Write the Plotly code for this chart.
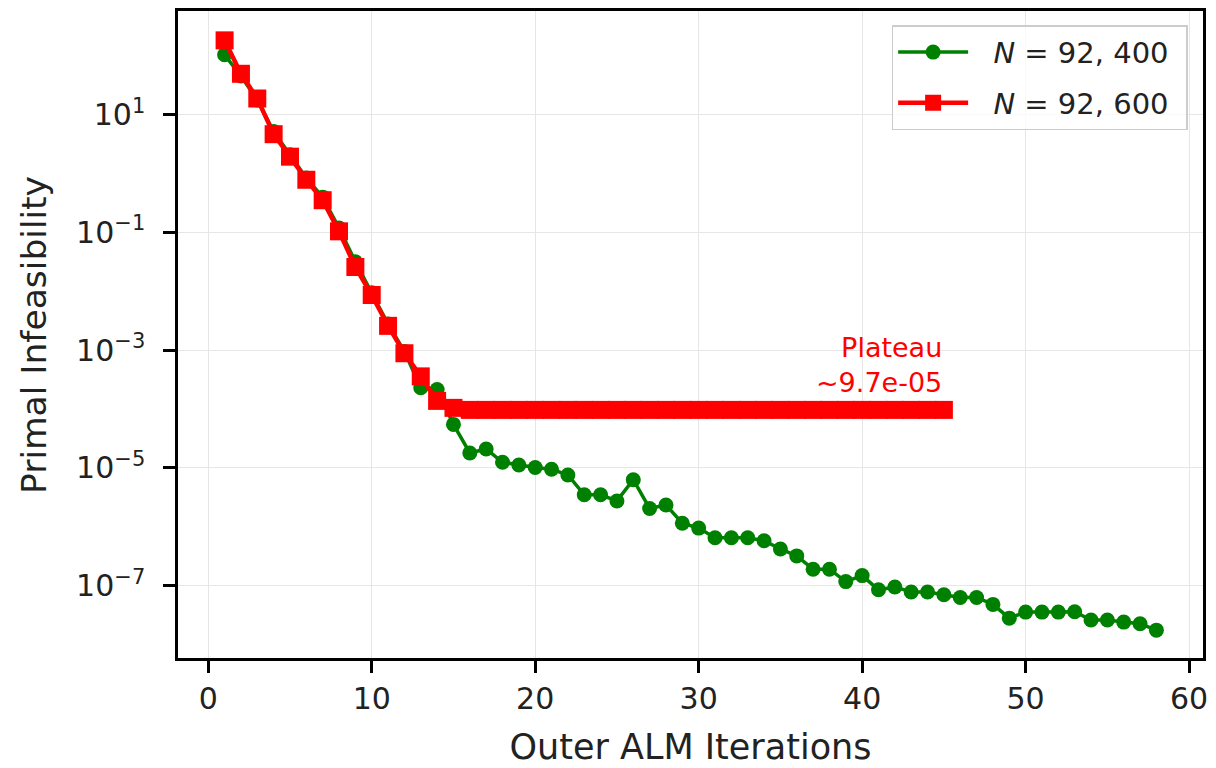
import math
import plotly.graph_objects as go

# ---- data ----
iters_a = list(range(1, 59))
infeas_a = [
    1.05e2, 4.6e1, 1.8e1, 5.2, 2.1, 0.85, 0.40, 0.12, 0.032, 0.0095,
    0.0028, 0.00095, 2.3e-4, 2.15e-4, 5.5e-5, 1.8e-5, 2.1e-5, 1.25e-5, 1.12e-5, 1.02e-5,
    9.5e-6, 7.6e-6, 3.5e-6, 3.5e-6, 2.75e-6, 6.3e-6, 2.05e-6, 2.35e-6, 1.15e-6, 9.5e-7,
    6.5e-7, 6.5e-7, 6.5e-7, 5.8e-7, 4.2e-7, 3.2e-7, 1.9e-7, 1.9e-7, 1.17e-7, 1.48e-7,
    8.5e-8, 9.5e-8, 7.8e-8, 7.8e-8, 7.0e-8, 6.3e-8, 6.3e-8, 4.8e-8, 2.8e-8, 3.55e-8,
    3.55e-8, 3.55e-8, 3.6e-8, 2.6e-8, 2.6e-8, 2.4e-8, 2.25e-8, 1.75e-8,
]
iters_b = list(range(1, 46))
infeas_b = [
    1.85e2, 5.0e1, 1.9e1, 4.7, 1.95, 0.79, 0.355, 0.105, 0.026, 0.0087,
    0.0026, 0.00089, 0.00036, 1.38e-4, 1.05e-4,
] + [9.7e-5] * 30

label_a = "\u2002\u2009<i>N</i> = 92, 400\u2009\u2009"
label_b = "\u2002\u2009<i>N</i> = 92, 600\u2009\u2009"
plateau_value = 9.7e-5
plateau_text = "Plateau<br>~9.7e-05"
x_title = "Outer ALM Iterations"
y_title = "Primal Infeasibility"

x_ticks = [0, 10, 20, 30, 40, 50, 60]
y_tick_vals = [1e1, 1e-1, 1e-3, 1e-5, 1e-7]
y_tick_text = ["10<sup>1</sup>", "10<sup>\u22121</sup>", "10<sup>\u22123</sup>",
               "10<sup>\u22125</sup>", "10<sup>\u22127</sup>"]

FONT = "DejaVu Sans"
TXT = "#222222"

fig = go.Figure()
fig.add_trace(go.Scatter(
    x=iters_a, y=infeas_a, mode="lines+markers", name=label_a, legendgroup="a",
    line=dict(color="#008000", width=3.5),
    marker=dict(symbol="circle", size=15, color="#008000"),
))
fig.add_trace(go.Scatter(
    x=iters_b, y=infeas_b, mode="lines+markers", name=label_b, legendgroup="b",
    line=dict(color="#ff0000", width=4.5),
    marker=dict(symbol="square", size=18, color="#ff0000"),
))

fig.add_annotation(
    x=iters_b[-1], y=math.log10(plateau_value * 1.5), xref="x", yref="y",
    text=plateau_text, showarrow=False, xanchor="right", yanchor="bottom",
    align="right", font=dict(family=FONT, size=27, color="#ff0000"),
)

# y-axis title as an annotation to place it precisely
fig.add_annotation(
    x=-0.141, y=0.5, xref="paper", yref="paper", text=y_title, textangle=-90,
    showarrow=False, xanchor="center", yanchor="middle",
    font=dict(family=FONT, size=34.5, color=TXT),
)

axis_common = dict(
    showline=True, linecolor="black", linewidth=2.5, mirror=True,
    ticks="outside", ticklen=12, tickwidth=2.5, tickcolor="black",
    showgrid=True, gridcolor="#e6e6e6", gridwidth=1.2,
    zeroline=False, tickfont=dict(family=FONT, size=30, color=TXT),
)

fig.update_layout(
    width=1216, height=768,
    margin=dict(l=178, r=13, t=8, b=108),
    paper_bgcolor="white", plot_bgcolor="white",
    font=dict(family=FONT, color=TXT),
    showlegend=True,
    legend=dict(
        x=0.985, y=0.978, xanchor="right", yanchor="top",
        bgcolor="rgba(255,255,255,0.8)", bordercolor="#cccccc", borderwidth=1.5,
        font=dict(family=FONT, size=29, color=TXT),
        itemwidth=70, tracegroupgap=10,
    ),
    xaxis=dict(
        range=[-1.85, 60.85], tickvals=x_ticks,
        title=dict(text=x_title, font=dict(family=FONT, size=35, color=TXT), standoff=20),
        **axis_common,
    ),
    yaxis=dict(
        type="log", range=[-8.23, 2.766], tickvals=y_tick_vals, ticktext=y_tick_text,
        ticklabelstandoff=12,
        **axis_common,
    ),
)

fig.write_html("out.html")
